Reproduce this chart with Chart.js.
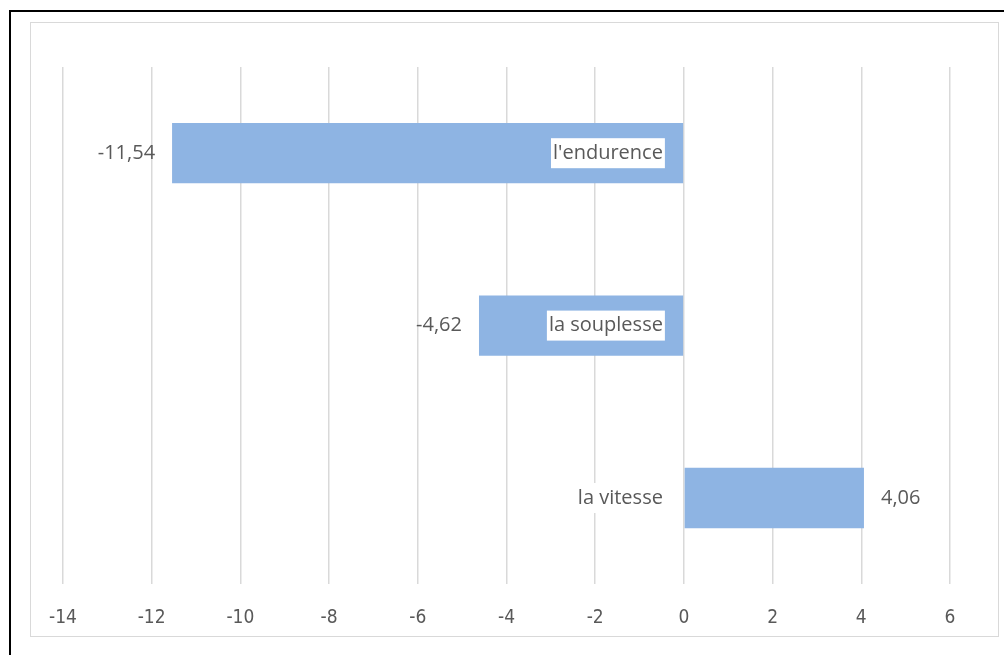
<!DOCTYPE html>
<html>
<head>
<meta charset="utf-8">
<script src="https://cdn.jsdelivr.net/npm/chart.js@4.4.1/dist/chart.umd.min.js"></script>
<style>
  html, body { margin: 0; padding: 0; background: #fff; overflow: hidden; }
  #frame {
    position: absolute; left: 9px; top: 10px; width: 1000px; height: 650px;
    border-left: 2px solid #000; border-top: 2px solid #000;
  }
  #box {
    position: absolute; left: 30px; top: 22px; width: 967px; height: 613px;
    border: 1px solid #d9d9d9; background: #fff;
  }
  #wrap { position: absolute; left: 27px; top: 23px; width: 970px; height: 636px; }
</style>
</head>
<body>
<div id="frame"></div>
<div id="box"></div>
<div id="wrap"><canvas id="chart"></canvas></div>
<script>
// Data
const categories = ["l'endurence", 'la souplesse', 'la vitesse'];
const values = [-11.54, -4.62, 4.06];
const axisMin = -14;
const axisMax = 6;
const axisStep = 2;

const barColor = '#8EB4E3';
const textColor = '#595959';
const labelFont = '20px "Open Sans", "Liberation Sans", sans-serif';

function fmt(v) {
  return v.toFixed(2).replace('.', ',');
}

// Draw value labels at the bar ends and category labels next to the zero line
const barLabels = {
  id: 'barLabels',
  afterDatasetsDraw(chart) {
    const ctx = chart.ctx;
    const x = chart.scales.x;
    const meta = chart.getDatasetMeta(0);
    const zero = x.getPixelForValue(0);
    ctx.save();
    ctx.textBaseline = 'middle';
    ctx.font = labelFont;
    meta.data.forEach((bar, i) => {
      const v = values[i];
      const y = bar.y;
      // value label
      ctx.fillStyle = textColor;
      if (v < 0) {
        ctx.textAlign = 'right';
        ctx.fillText(fmt(v), x.getPixelForValue(v) - 17, y);
      } else {
        ctx.textAlign = 'left';
        ctx.fillText(fmt(v), x.getPixelForValue(v) + 17, y);
      }
      // category label with white box
      const w = ctx.measureText(categories[i]).width;
      const right = zero - 21;
      ctx.fillStyle = '#fff';
      ctx.fillRect(right - w - 2, y - 15, w + 4, 30);
      ctx.fillStyle = textColor;
      ctx.textAlign = 'right';
      ctx.fillText(categories[i], right, y);
    });
    ctx.restore();
  }
};

new Chart(document.getElementById('chart'), {
  type: 'bar',
  data: {
    labels: categories,
    datasets: [{
      data: values,
      backgroundColor: barColor,
      borderWidth: 0,
      barPercentage: 0.35,
      categoryPercentage: 1
    }]
  },
  options: {
    indexAxis: 'y',
    responsive: true,
    maintainAspectRatio: false,
    animation: false,
    layout: { padding: { left: 27, right: 47, top: 44, bottom: 8 } },
    plugins: {
      legend: { display: false },
      tooltip: { enabled: false },
      title: { display: false }
    },
    scales: {
      x: {
        min: axisMin,
        max: axisMax,
        afterBuildTicks(scale) {
          const t = [];
          for (let v = axisMin; v <= axisMax; v += axisStep) t.push({ value: v });
          scale.ticks = t;
        },
        grid: { color: '#d9d9d9', lineWidth: 1.5, drawTicks: false },
        border: { display: false },
        ticks: {
          padding: 22,
          color: textColor,
          font: { family: '"Liberation Sans Narrow", "DejaVu Sans Condensed", sans-serif', size: 19 },
          callback: v => String(v)
        }
      },
      y: {
        display: false,
        grid: { display: false }
      }
    }
  },
  plugins: [barLabels]
});
</script>
</body>
</html>
